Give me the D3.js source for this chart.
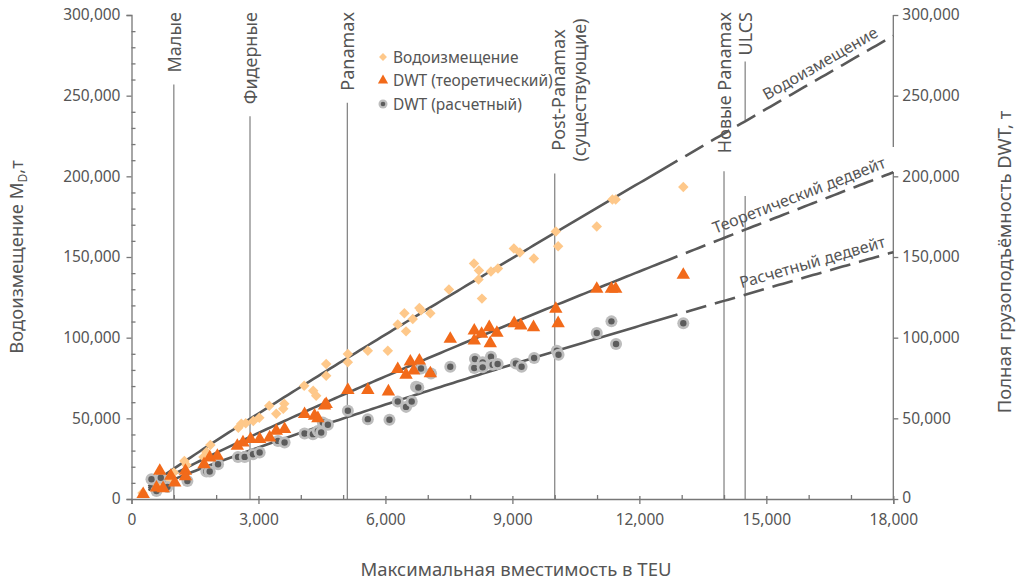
<!DOCTYPE html>
<html><head><meta charset="utf-8">
<script src="https://cdn.jsdelivr.net/npm/d3@7"></script>
<style>
body{margin:0;background:#fff}
svg text{font-family:"Noto Sans",sans-serif;fill:#555}
</style>
</head><body>
<svg id="chart" width="1017" height="582"></svg>
<script>
// Container ship classes (TEU where each class boundary sits)
const categories = ["Малые", "Фидерные", "Panamax", "Post-Panamax|(существующие)", "Новые Panamax", "ULCS"];
const categoryTEU = [1000, 2800, 5100, 10000, 14000, 14500];

// [TEU, tonnes]
const displacement = [
  [260,3700],[600,9000],[900,12000],[1000,16500],[1250,23600],[1300,21000],[1700,26000],[1770,29200],
  [1864,33500],[2524,44100],[2595,46600],[2700,47000],[2878,48400],[3020,50300],[3255,57800],[3420,52800],
  [3586,55900],[3609,59000],[4081,70200],[4293,67100],[4364,64000],[4600,83700],[4600,76400],[5112,89900],
  [5112,84700],[5584,91900],[6056,91900],[6291,108100],[6448,115100],[6487,103900],[6645,111600],[6802,118400],
  [6840,117000],[7061,115100],[7500,129800],[8092,146000],[8200,136000],[8210,141600],[8280,124200],[8493,141000],
  [8658,142900],[9035,155300],[9177,152800],[9507,149100],[10026,165800],[10081,156700],[10993,168900],
  [11363,185700],[11441,185700],[13038,193400]
];
const dwtTheoretical = [
  [276,3000],[590,7000],[668,17400],[747,6600],[928,14300],[1022,10100],[1274,17400],[1274,14000],
  [1714,21500],[1848,25700],[2029,26700],[2500,32900],[2634,35000],[2815,37100],[3028,37100],[3264,38100],
  [3421,42200],[3617,43300],[4089,52600],[4325,51600],[4404,50000],[4561,57800],[4600,58800],[5112,67500],
  [5584,67500],[6070,66600],[6291,80500],[6487,77000],[6589,85100],[6668,79500],[6802,85700],[7061,77800],
  [7532,99200],[8099,104300],[8099,98100],[8273,102300],[8453,106400],[8477,96500],[8634,102900],[9042,108900],
  [9200,107500],[9499,106400],[10026,117800],[10081,108900],[10993,130200],[11340,130200],[11441,130200],
  [13038,138900]
];
const dwtCalculated = [
  [472,12200],[590,5000],[692,13200],[849,7500],[1321,11200],[1769,17000],[1848,17000],[2045,21500],
  [2517,26100],[2674,26100],[2871,27700],[3028,28800],[3461,36000],[3617,35000],[4089,40600],[4286,40200],
  [4404,42200],[4482,41200],[4521,47400],[4640,46000],[5112,54700],[5584,49500],[6095,49100],[6291,60400],
  [6487,57100],[6621,60400],[6723,69600],[6777,69100],[6841,80900],[7077,77800],[7532,82000],[8099,81200],
  [8115,86800],[8297,84700],[8297,81600],[8493,88200],[8533,83200],[8651,83700],[9082,84000],[9217,82000],
  [9514,87400],[10050,91900],[10090,89400],[10993,102900],[11340,110100],[11449,96100],[13038,108900]
];

// Power-law trends  t = a * TEU^b  (displacement, theoretical DWT, calculated DWT)
const trendNames = ["Водоизмещение", "Теоретический дедвейт", "Расчетный дедвейт"];
const trendA = [27.88, 32.41, 28.93];
const trendB = [0.943, 0.892, 0.875];
const trendLabelTEU = [16420, 15880, 16170];

const legendLabels = ["Водоизмещение", "DWT (теоретический)", "DWT (расчетный)"];
const xTicks = [0, 3000, 6000, 9000, 12000, 15000, 18000];
const yTicks = [0, 50000, 100000, 150000, 200000, 250000, 300000];

const svg = d3.select("#chart");
const x = d3.scaleLinear().domain([0, 18000]).range([131.5, 893.3]);
const y = d3.scaleLinear().domain([0, 300000]).range([499, 15]);
const fmt = d3.format(",");
const axisColor = "#777";
const lineColor = "#595959";
const trend = i => v => trendA[i] * Math.pow(v, trendB[i]);

// ---- class boundary lines and labels
const catG = svg.append("g");
categories.forEach((name, i) => {
  const cx = x(categoryTEU[i]);
  const lines = name.split("|");
  let t;
  if (lines.length === 1) {
    t = catG.append("text")
      .attr("transform", `translate(${cx + 7},12) rotate(-90)`)
      .attr("text-anchor", "end")
      .style("font-size", "18px").text(name);
  } else {
    t = catG.append("text")
      .attr("transform", `translate(${cx + 10},90) rotate(-90)`)
      .attr("text-anchor", "middle")
      .style("font-size", "18px");
    lines.forEach((l, j) => t.append("tspan").attr("x", 0).attr("dy", j === 0 ? 0 : "1.2em").text(l));
  }
  const bb = t.node().getBoundingClientRect();
  const top = bb.bottom + (name === "Новые Panamax" ? 18 : 12);
  // the ULCS boundary is interrupted below the displacement trend
  const segs = name === "ULCS"
    ? [[top - 6, y(trend(0)(categoryTEU[i])) - 1], [196, y(0)]]
    : [[top, y(0)]];
  segs.forEach(s => catG.append("line")
    .attr("x1", cx).attr("x2", cx).attr("y1", s[0]).attr("y2", s[1])
    .attr("stroke", "#888").attr("stroke-width", 1.3));
});

// ---- axes
const xAxis = d3.axisBottom(x).tickValues(xTicks).tickSize(5).tickPadding(10).tickFormat(fmt);
const gx = svg.append("g").attr("transform", `translate(0,${y(0)})`).call(xAxis);
const xMinor = d3.range(1000, 18000, 1000).filter(v => v % 3000 !== 0);
svg.append("g").attr("transform", `translate(0,${y(0)})`)
  .call(d3.axisTop(x).tickValues(xMinor).tickSize(4).tickFormat(""))
  .select(".domain").remove();
svg.append("g").attr("transform", `translate(0,${y(0)})`)
  .call(d3.axisTop(x).tickValues(xTicks.slice(1)).tickSize(3).tickFormat(""))
  .select(".domain").remove();

const gy = svg.append("g").attr("transform", `translate(${x(0)},0)`)
  .call(d3.axisLeft(y).tickValues(yTicks).tickSize(5).tickPadding(6).tickFormat(fmt));
const yMinor = d3.range(10000, 300001, 10000).filter(v => v % 50000 !== 0);
svg.append("g").attr("transform", `translate(${x(0)},0)`)
  .call(d3.axisRight(y).tickValues(yMinor).tickSize(4).tickFormat(""))
  .select(".domain").remove();

const gr = svg.append("g").attr("transform", `translate(${x(18000)},0)`)
  .call(d3.axisRight(y).tickValues(yTicks).tickSize(5).tickPadding(4).tickFormat(fmt));
gr.select(".domain").remove();
// right axis line, broken just above where the theoretical trend meets it
gr.append("line").attr("x1", 0).attr("x2", 0).attr("y1", y(300000)).attr("y2", 147).attr("stroke", axisColor).attr("stroke-width", 1.3);
gr.append("line").attr("x1", 0).attr("x2", 0).attr("y1", 172).attr("y2", y(0)).attr("stroke", axisColor).attr("stroke-width", 1.3);

[gx, gy, gr].forEach(g => {
  g.selectAll("path.domain").attr("stroke", axisColor).attr("stroke-width", 1.3);
  g.selectAll(".tick text").style("font-size", "15.5px").style("font-family", "'Noto Sans',sans-serif").attr("fill", "#555");
});
// zero label of the right axis sits a touch higher to clear the 18,000 label
gr.selectAll(".tick text").filter(d => d === 0).attr("dy", "0.2em");
svg.selectAll(".tick line").attr("stroke", axisColor).attr("stroke-width", 1.3);

// ---- axis titles
svg.append("text").attr("x", 516).attr("y", 576).attr("text-anchor", "middle")
  .style("font-size", "18.5px").text("Максимальная вместимость в TEU");
const lt = svg.append("text").attr("transform", "translate(23,257) rotate(-90)").attr("text-anchor", "middle")
  .style("font-size", "18.5px");
lt.append("tspan").text("Водоизмещение M");
lt.append("tspan").attr("dy", 4).style("font-size", "12px").text("D");
lt.append("tspan").attr("dy", -4).text(",т");
svg.append("text").attr("transform", "translate(1011,262) rotate(-90)").attr("text-anchor", "middle")
  .style("font-size", "18.5px").text("Полная грузоподъёмность DWT, т");

// ---- trend lines (solid over the data range, dashed beyond)
const line = d3.line().x(d => x(d[0])).y(d => y(d[1]));
trendNames.forEach((name, i) => {
  const f = trend(i);
  const solid = d3.range(400, 12901, 100).map(v => [v, f(v)]);
  const dashed = d3.range(12900, 18001, 100).map(v => [v, f(v)]);
  svg.append("path").attr("d", line(solid)).attr("fill", "none")
    .attr("stroke", lineColor).attr("stroke-width", 2.6);
  svg.append("path").attr("d", line(dashed)).attr("fill", "none")
    .attr("stroke", lineColor).attr("stroke-width", 2.6)
    .attr("stroke-dasharray", "21 9").attr("stroke-dashoffset", 21);
  const t0 = trendLabelTEU[i];
  const px = x(t0), py = y(f(t0));
  const ang = Math.atan2(y(f(t0 + 100)) - y(f(t0 - 100)), x(t0 + 100) - x(t0 - 100)) * 180 / Math.PI;
  svg.append("text").attr("transform", `translate(${px},${py}) rotate(${ang})`)
    .attr("text-anchor", "middle").attr("dy", -7)
    .style("font-size", "16px").text(name);
});

// ---- markers
const diamond = d3.symbol().type(d3.symbolDiamond2).size(70);
const tri = d3.symbol().type(d3.symbolTriangle).size(78);

svg.append("g").selectAll("path").data(displacement).join("path")
  .attr("d", diamond).attr("transform", d => `translate(${x(d[0])},${y(d[1])})`)
  .attr("fill", "#FEC88A");

const gc = svg.append("g").selectAll("g").data(dwtCalculated).join("g")
  .attr("transform", d => `translate(${x(d[0])},${y(d[1])})`);
gc.append("circle").attr("r", 6).attr("fill", "#BDBDBD");
gc.append("circle").attr("r", 3.2).attr("fill", "#5C5C5C");

svg.append("g").selectAll("path").data(dwtTheoretical).join("path")
  .attr("d", tri).attr("transform", d => `translate(${x(d[0])},${y(d[1])})`)
  .attr("fill", "#F26A1A");

// ---- legend
const lg = svg.append("g").attr("transform", "translate(383,57)");
legendLabels.forEach((lab, i) => {
  const g = lg.append("g").attr("transform", `translate(0,${i * 23.5})`);
  if (i === 0) g.append("path").attr("d", d3.symbol().type(d3.symbolDiamond2).size(40)).attr("fill", "#FEC88A");
  if (i === 1) g.append("path").attr("d", d3.symbol().type(d3.symbolTriangle).size(45)).attr("fill", "#F26A1A");
  if (i === 2) { g.append("circle").attr("r", 4.5).attr("fill", "#BDBDBD"); g.append("circle").attr("r", 2.3).attr("fill", "#5C5C5C"); }
  g.append("text").attr("x", 10).attr("y", 5.5).style("font-size", "15.5px").text(lab);
});
</script>
</body></html>
